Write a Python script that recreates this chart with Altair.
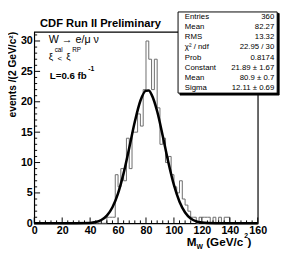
import altair as alt
import pandas as pd

# ---------------- data ----------------
bin_lo = [50, 52, 54, 56, 58, 60, 62, 64, 66, 68, 70, 72, 74, 76, 78, 80, 82, 84, 86, 88,
          90, 92, 94, 96, 98, 100, 102, 104, 106, 108, 110, 112, 114, 116, 118, 120, 122,
          124, 126, 128, 130, 132, 134, 136, 138]
counts = [0, 1, 1, 1, 8, 6, 9, 7, 14, 9, 15, 15, 18, 16, 22, 30, 27, 22, 27, 19,
          13, 14, 10, 11, 8, 6, 5, 7, 4, 3, 2, 1, 1, 0, 1, 1, 1,
          1, 0, 1, 0, 1, 0, 1, 1]

fit_x = [0, 20, 40, 44, 48, 52, 56, 60, 64, 68, 72, 76, 80, 82, 84, 88, 92, 96, 100,
         104, 108, 112, 116, 120, 124, 130, 140, 160]
fit_y = [0, 0, 0.07, 0.21, 0.55, 1.27, 2.64, 4.94, 8.26, 12.41, 16.71, 20.17, 21.83, 21.85,
         21.18, 18.44, 14.38, 10.06, 6.31, 3.55, 1.79, 0.81, 0.33, 0.12, 0.04, 0.01, 0, 0]

x_major = [0, 20, 40, 60, 80, 100, 120, 140, 160]
x_minor = [4, 8, 12, 16, 24, 28, 32, 36, 44, 48, 52, 56, 64, 68, 72, 76, 84, 88, 92, 96,
           104, 108, 112, 116, 124, 128, 132, 136, 144, 148, 152, 156]
y_major = [0, 5, 10, 15, 20, 25, 30]
y_minor = [1, 2, 3, 4, 6, 7, 8, 9, 11, 12, 13, 14, 16, 17, 18, 19, 21, 22, 23, 24,
           26, 27, 28, 29, 31]

stats_labels = ["Entries", "Mean", "RMS", "χ² / ndf", "Prob", "Constant", "Mean", "Sigma"]
stats_values = ["360", "82.27", "13.32", "22.95 / 30", "0.8174", "21.89 ± 1.67",
                "80.9 ± 0.7", "12.11 ± 0.69"]

# ---------------- tables ----------------
cmap = dict(zip(bin_lo, counts))
edges = list(range(0, 162, 2))
hist_df = pd.DataFrame({"x": edges, "y": [cmap.get(e, 0) for e in edges]})
fit_df = pd.DataFrame({"x": fit_x, "y": fit_y})

W, H = 230, 197
FONT = "Liberation Sans"
xs = alt.Scale(domain=[0, 160], nice=False, zero=False)
ys = alt.Scale(domain=[0, 31.5], nice=False, zero=False)
xaxis = alt.Axis(values=x_major, title=None, labelPadding=1, labelFlush=False)
yaxis = alt.Axis(values=y_major, title=None, labelPadding=2)


def X():
    return alt.X("x:Q", scale=xs, axis=xaxis)


def Y():
    return alt.Y("y:Q", scale=ys, axis=yaxis)


one = pd.DataFrame({"a": [0]})


def txt(s, x, y, size=11, bold=False, align="left", angle=0, font=FONT):
    kw = dict(align=align, baseline="middle", fontSize=size, font=font,
              fontWeight="bold" if bold else "normal", color="black")
    if angle:
        kw["angle"] = angle
    return alt.Chart(one).mark_text(**kw).encode(
        x=alt.value(x), y=alt.value(y), text=alt.value(s))


hist = alt.Chart(hist_df).mark_line(interpolate="step-after", color="#6a6a6a",
                                    strokeWidth=1).encode(x=X(), y=Y())
fit = alt.Chart(fit_df).mark_line(interpolate="monotone", color="black",
                                  strokeWidth=2.6).encode(x=X(), y=Y())

xt_major = alt.Chart(pd.DataFrame({"x": x_major})).mark_rule(color="black").encode(
    x=X(), y=alt.value(H), y2=alt.value(H - 6))
xt_minor = alt.Chart(pd.DataFrame({"x": x_minor})).mark_rule(color="black").encode(
    x=X(), y=alt.value(H), y2=alt.value(H - 3))
yt_major = alt.Chart(pd.DataFrame({"y": y_major})).mark_rule(color="black").encode(
    y=Y(), x=alt.value(0), x2=alt.value(6))
yt_minor = alt.Chart(pd.DataFrame({"y": y_minor})).mark_rule(color="black").encode(
    y=Y(), x=alt.value(0), x2=alt.value(3))

# stats box (with shadow)
shadow = alt.Chart(one).mark_rect(fill="black", stroke="black").encode(
    x=alt.value(150), x2=alt.value(252), y=alt.value(-19), y2=alt.value(65))
box = alt.Chart(one).mark_rect(fill="white", stroke="black", strokeWidth=1).encode(
    x=alt.value(148), x2=alt.value(250), y=alt.value(-20.5), y2=alt.value(63))

layers = [hist, fit, xt_major, xt_minor, yt_major, yt_minor, shadow, box]
for i, (lab, val) in enumerate(zip(stats_labels, stats_values)):
    yy = -15.5 + 10.5 * i
    layers.append(txt(lab, 155, yy, size=8))
    layers.append(txt(val, 247, yy, size=8, align="right"))

# title
layers.append(txt("CDF Run II Preliminary", 6, -8, size=11.5, bold=True))
# in-plot legend
layers.append(txt("W → e/μ ν", 15, 8.5, size=11))
layers.append(txt("ξ", 15, 26, size=10))
layers.append(txt("cal", 21, 19, size=6.5))
layers.append(txt("<", 24, 27.5, size=8))
layers.append(txt("ξ", 33, 26, size=10))
layers.append(txt("RP", 39, 18.5, size=6.5))
layers.append(txt("L=0.6 fb", 16, 45, size=10, bold=True))
layers.append(txt("-1", 55.5, 38.5, size=7, bold=True))
# axis titles
layers.append(txt("events /(2 GeV/c²)", -21.5, 0, size=10.5, bold=True, align="right", angle=270))
layers.append(txt("M", 157, 216.5, size=12, bold=True))
layers.append(txt("W", 167, 221, size=7, bold=True))
layers.append(txt("(GeV/c", 215, 216.5, size=12, bold=True, align="right"))
layers.append(txt("2", 216, 210.5, size=7, bold=True))
layers.append(txt(")", 219.5, 216.5, size=12, bold=True))

chart = alt.layer(*layers).properties(
    width=W, height=H,
    autosize=alt.AutoSizeParams(type="none"),
    padding={"left": 27, "top": 21, "right": 26, "bottom": 28},
).configure_view(stroke="black", strokeWidth=1.2).configure_axis(
    labelFont=FONT, labelFontWeight="bold", labelFontSize=11, labelColor="black",
    ticks=False, domain=False, grid=False)

chart.save("out.html", embed_options={"renderer": "svg", "actions": False})
